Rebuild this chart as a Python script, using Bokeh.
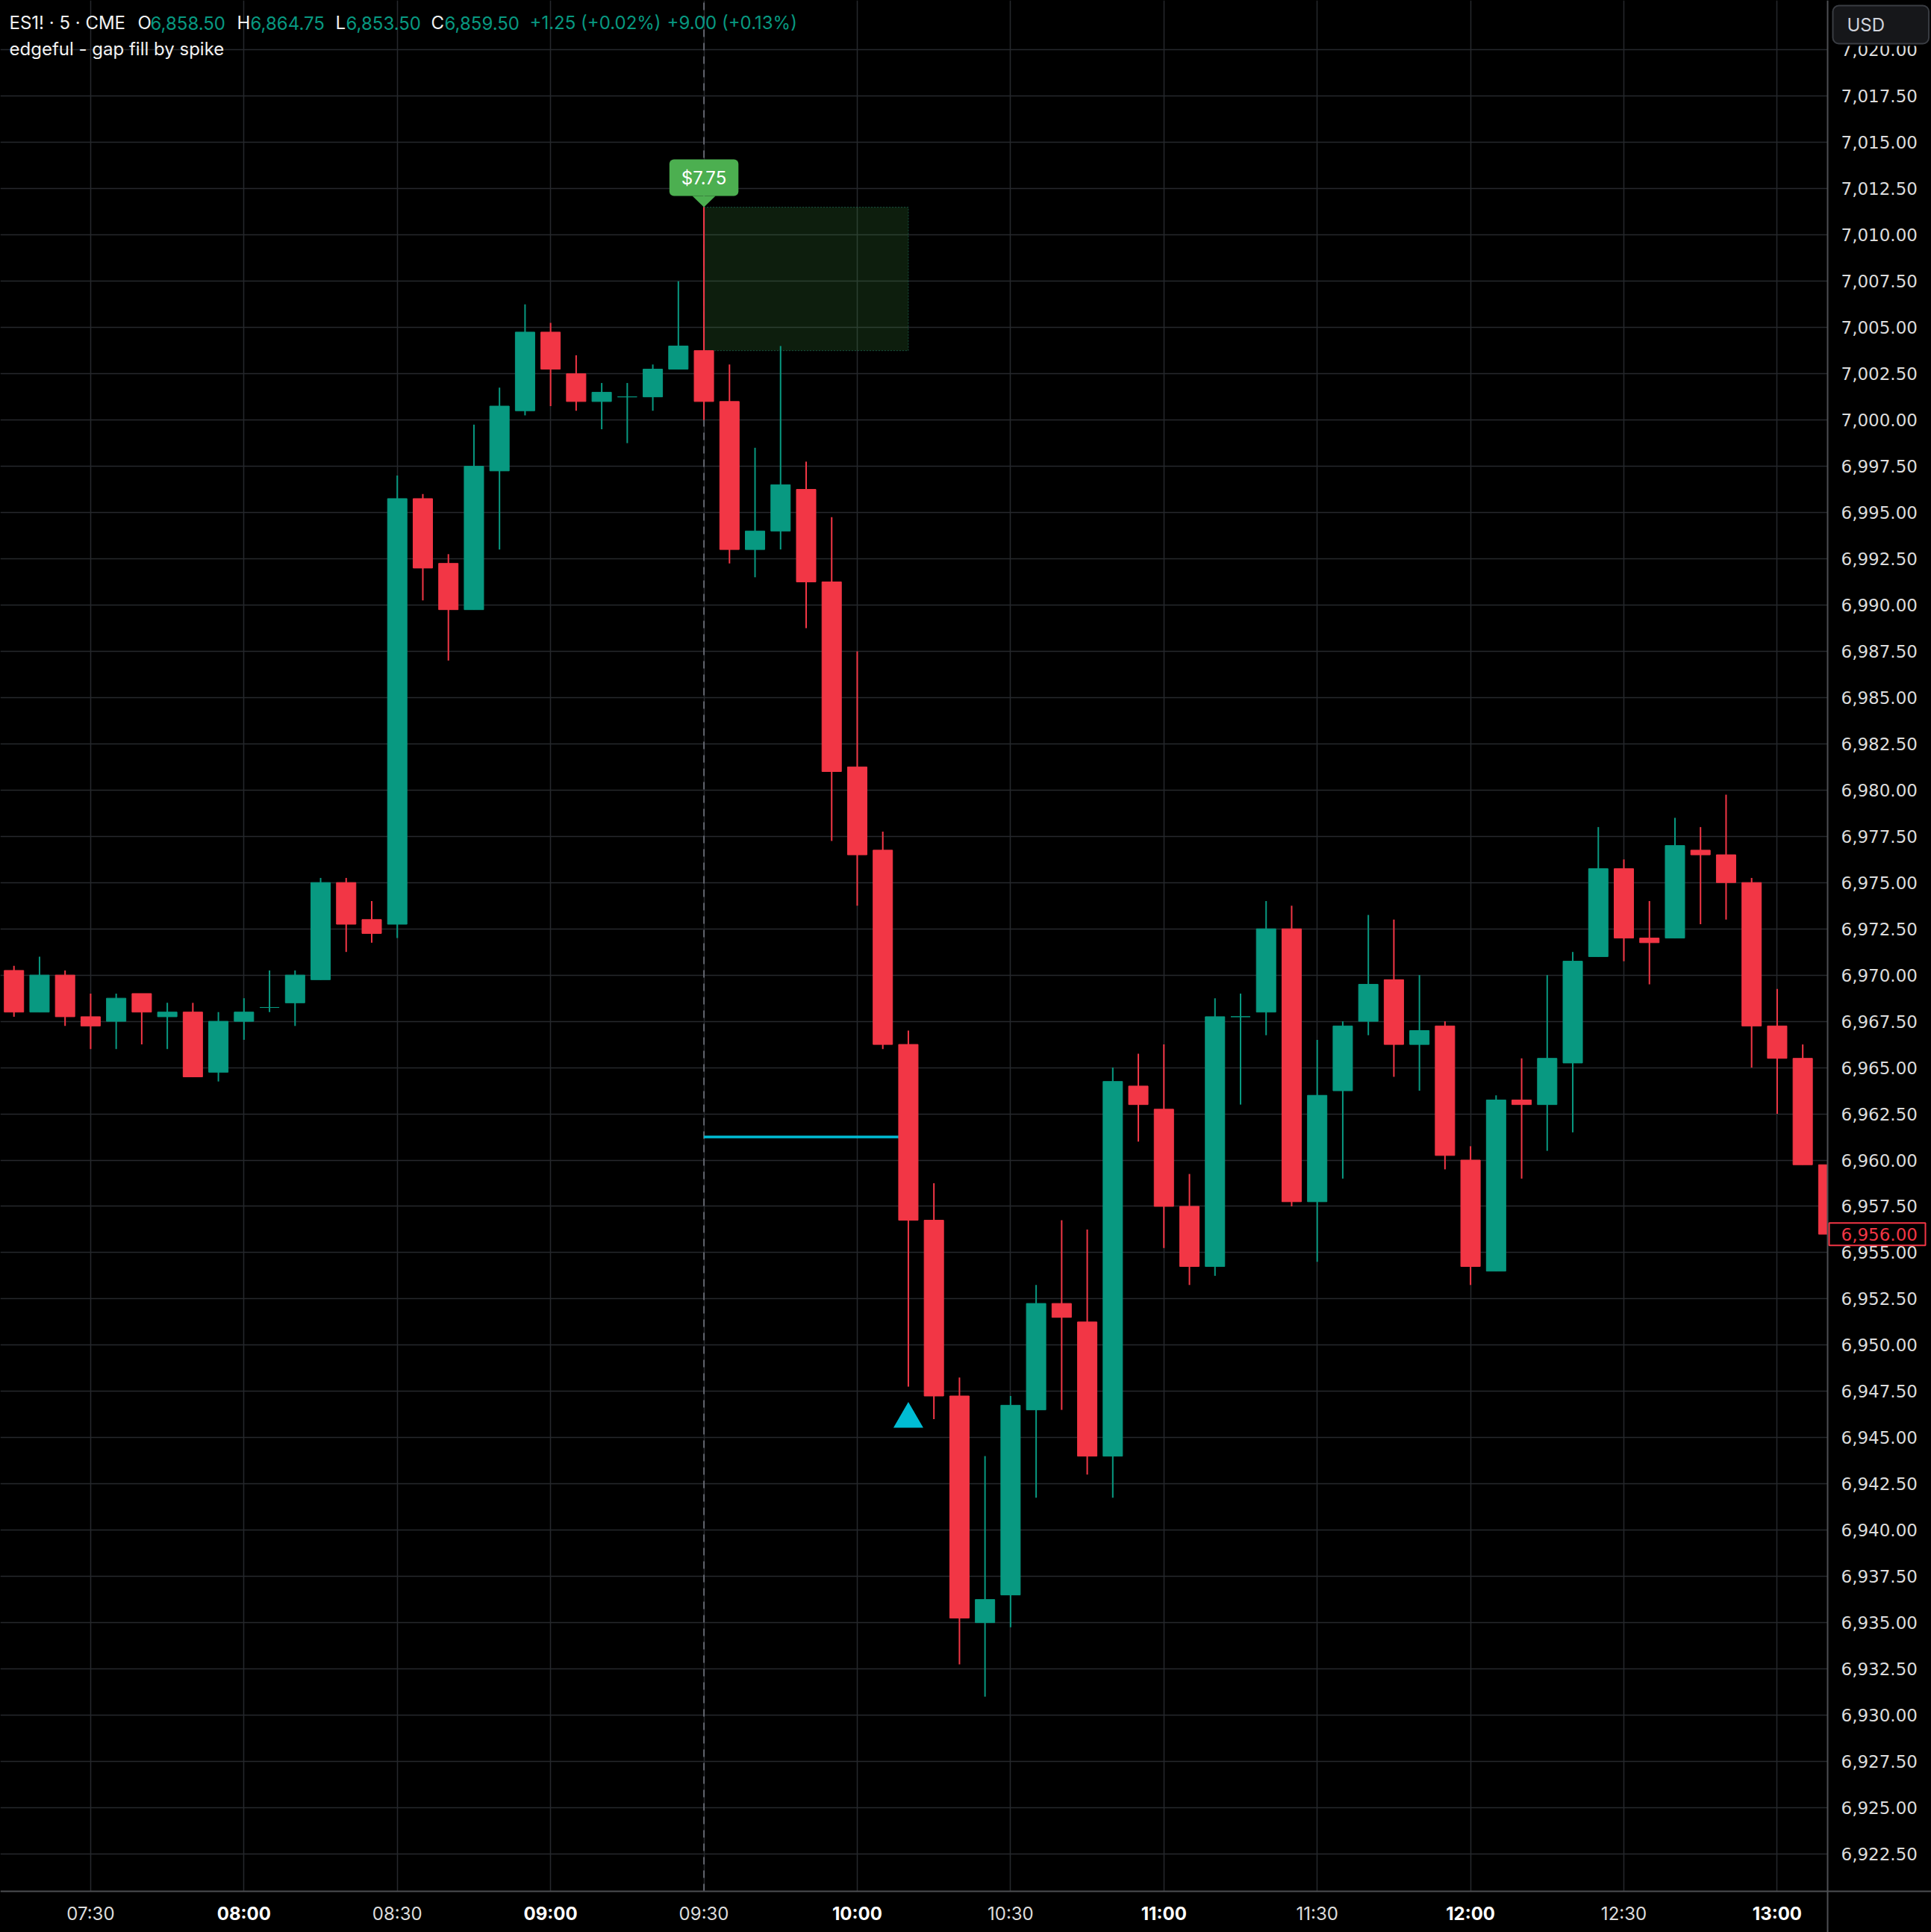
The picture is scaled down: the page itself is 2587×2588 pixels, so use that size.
import numpy as np
from bokeh.plotting import figure
from bokeh.models import ColumnDataSource, FixedTicker, Range1d, Label
from bokeh.embed import file_html
from bokeh.resources import INLINE
from bokeh.core.properties import value

# ---------------- data ----------------
bar_times = ["07:15", "07:20", "07:25", "07:30", "07:35", "07:40", "07:45", "07:50", "07:55",
             "08:00", "08:05", "08:10", "08:15", "08:20", "08:25", "08:30", "08:35", "08:40",
             "08:45", "08:50", "08:55", "09:00", "09:05", "09:10", "09:15", "09:20", "09:25",
             "09:30", "09:35", "09:40", "09:45", "09:50", "09:55", "10:00", "10:05", "10:10",
             "10:15", "10:20", "10:25", "10:30", "10:35", "10:40", "10:45", "10:50", "10:55",
             "11:00", "11:05", "11:10", "11:15", "11:20", "11:25", "11:30", "11:35", "11:40",
             "11:45", "11:50", "11:55", "12:00", "12:05", "12:10", "12:15", "12:20", "12:25",
             "12:30", "12:35", "12:40", "12:45", "12:50", "12:55", "13:00", "13:05", "13:10"]
bar_open = [6970.25, 6968.0, 6970.0, 6967.75, 6967.5, 6969.0, 6967.75, 6968.0, 6964.75,
            6967.5, 6968.25, 6968.5, 6969.75, 6975.0, 6973.0, 6972.75, 6995.75, 6992.25,
            6989.75, 6997.25, 7000.5, 7004.75, 7002.5, 7001.0, 7001.25, 7001.25, 7002.75,
            7003.75, 7001.0, 6993.0, 6994.0, 6996.25, 6991.25, 6981.25, 6976.75, 6966.25,
            6956.75, 6947.25, 6935.0, 6936.5, 6946.5, 6952.25, 6951.25, 6944.0, 6964.0,
            6962.75, 6957.5, 6954.25, 6967.75, 6968.0, 6972.5, 6957.75, 6963.75, 6967.5,
            6969.75, 6966.25, 6967.25, 6960.0, 6954.0, 6963.25, 6963.0, 6965.25, 6971.0,
            6975.75, 6972.0, 6972.0, 6976.75, 6976.5, 6975.0, 6967.25, 6965.5, 6959.75]
bar_high = [6970.5, 6971.0, 6970.25, 6969.0, 6969.0, 6969.0, 6968.5, 6968.5, 6968.0,
            6968.75, 6970.25, 6970.25, 6975.25, 6975.25, 6974.0, 6997.0, 6996.0, 6992.75,
            6999.75, 7001.75, 7006.25, 7005.25, 7003.5, 7002.0, 7002.0, 7003.0, 7007.5,
            7011.5, 7003.0, 6998.5, 7004.0, 6997.75, 6994.75, 6987.5, 6977.75, 6967.0,
            6958.75, 6948.25, 6944.0, 6947.25, 6953.25, 6956.75, 6956.25, 6965.0, 6965.75,
            6966.25, 6959.25, 6968.75, 6969.0, 6974.0, 6973.75, 6966.5, 6967.5, 6973.25,
            6973.0, 6970.0, 6967.5, 6960.75, 6963.5, 6965.5, 6970.0, 6971.25, 6978.0,
            6976.25, 6974.0, 6978.5, 6978.0, 6979.75, 6975.25, 6969.25, 6966.25, 6959.75]
bar_low = [6967.75, 6968.0, 6967.25, 6966.0, 6966.0, 6966.25, 6966.0, 6964.5, 6964.25,
           6966.5, 6968.0, 6967.25, 6969.75, 6971.25, 6971.75, 6972.0, 6990.25, 6987.0,
           6989.75, 6993.0, 7000.25, 7000.75, 7000.5, 6999.5, 6998.75, 7000.5, 7002.75,
           7000.0, 6992.25, 6991.5, 6993.0, 6988.75, 6977.25, 6973.75, 6966.0, 6947.75,
           6946.0, 6932.75, 6931.0, 6934.75, 6941.75, 6946.5, 6943.0, 6941.75, 6961.0,
           6955.25, 6953.25, 6953.75, 6963.0, 6966.75, 6957.5, 6954.5, 6959.0, 6966.75,
           6964.5, 6963.75, 6959.5, 6953.25, 6954.0, 6959.0, 6960.5, 6961.5, 6971.0,
           6970.75, 6969.5, 6972.0, 6972.75, 6973.0, 6965.0, 6962.5, 6959.75, 6955.25]
bar_close = [6968.0, 6970.0, 6967.75, 6967.25, 6968.75, 6968.0, 6968.0, 6964.5, 6967.5,
             6968.0, 6968.25, 6970.0, 6975.0, 6972.75, 6972.25, 6995.75, 6992.0, 6989.75,
             6997.5, 7000.75, 7004.75, 7002.75, 7001.0, 7001.5, 7001.25, 7002.75, 7004.0,
             7001.0, 6993.0, 6994.0, 6996.5, 6991.25, 6981.0, 6976.5, 6966.25, 6956.75,
             6947.25, 6935.25, 6936.25, 6946.75, 6952.25, 6951.5, 6944.0, 6964.25, 6963.0,
             6957.5, 6954.25, 6967.75, 6967.75, 6972.5, 6957.75, 6963.5, 6967.25, 6969.5,
             6966.25, 6967.0, 6960.25, 6954.25, 6963.25, 6963.0, 6965.5, 6970.75, 6975.75,
             6972.0, 6971.75, 6977.0, 6976.5, 6975.0, 6967.25, 6965.5, 6959.75, 6956.0]

x_tick_labels = ["07:30", "08:00", "08:30", "09:00", "09:30", "10:00", "10:30",
                 "11:00", "11:30", "12:00", "12:30", "13:00"]
y_tick_first, y_tick_last, y_tick_step = 6922.5, 7020.0, 2.5

header_symbol = "ES1! · 5 · CME"
header_fields = ["O", "H", "L", "C"]
header_values = ["6,858.50", "6,864.75", "6,853.50", "6,859.50"]
header_changes = ["+1.25 (+0.02%)", "+9.00 (+0.13%)"]
indicator_name = "edgeful - gap fill by spike"

spike_time = "09:30"
zone_end_time = "10:10"
zone_top = 7011.5
zone_bottom = 7003.75
spike_label = "$7.75"
fill_level = 6961.25
signal_time = "10:10"
signal_price = 6946.0
currency = "USD"

# ---------------- styling ----------------
UP, DOWN = "#089981", "#f23645"
GRID = "#26282c"
AXIS_LINE = "#4d4f53"
TXT = "#dcdcdc"
FONT = "Inter"
NUMFONT = "DejaVu Sans"

W, H = 2587, 2588            # whole canvas
FW, FH = 2448, 2533          # price pane (right axis and time axis outside it)
x_start, x_end = 432.34, 789.87
y_start, y_end = 6920.48, 7022.68
ppm = FW / (x_end - x_start)  # px per minute
ppp = FH / (y_end - y_start)  # px per point
x_full = x_start + W / ppm
y_full = y_start - (H - FH) / ppp


def to_min(t):
    h, m = t.split(":")
    return int(h) * 60 + int(m)


xs = [to_min(t) for t in bar_times]
colors = [UP if c >= o else DOWN for o, c in zip(bar_open, bar_close)]
src = ColumnDataSource(dict(
    x=xs, o=bar_open, h=bar_high, l=bar_low, c=bar_close,
    top=[max(o, c) for o, c in zip(bar_open, bar_close)],
    bottom=[min(o, c) for o, c in zip(bar_open, bar_close)],
    color=colors))

p = figure(frame_width=W, frame_height=H,
           x_range=Range1d(x_start, x_full), y_range=Range1d(y_full, y_end),
           x_axis_location=None, y_axis_location=None,
           toolbar_location=None, output_backend="svg",
           background_fill_color="#000000", border_fill_color="#000000",
           outline_line_color=None, min_border=0)

x_ticks = [to_min(t) for t in x_tick_labels]
y_ticks = list(np.arange(y_tick_first, y_tick_last + 0.001, y_tick_step))

# reuse the figure's own grids
p.xgrid.ticker = FixedTicker(ticks=x_ticks)
p.ygrid.ticker = FixedTicker(ticks=y_ticks)
p.grid.grid_line_color = GRID
p.grid.grid_line_width = 1.5

sx = to_min(spike_time)
ex = to_min(zone_end_time)

# dashed vertical line at spike bar
p.segment(x0=[sx], y0=[y_start], x1=[sx], y1=[y_end], line_color="#787b86",
          line_width=1.5, line_dash="10 8")

# gap fill zone
p.quad(left=[sx], right=[ex], top=[zone_top], bottom=[zone_bottom],
       fill_color="#4caf50", fill_alpha=0.17, line_color="#1f6e58",
       line_alpha=0.7, line_width=1, line_dash="2 2")

# fill level line
p.segment(x0=[sx], y0=[fill_level], x1=[ex], y1=[fill_level],
          line_color="#00bcd4", line_width=3.5)

# candles
p.segment(x0="x", y0="l", x1="x", y1="h", line_color="color", line_width=2, source=src)
p.vbar(x="x", width=3.8, top="top", bottom="bottom", fill_color="color",
       line_color="color", line_width=1, source=src)

# signal triangle
p.scatter(x=[to_min(signal_time)], y=[signal_price], marker="triangle", size=40,
          fill_color="#00bcd4", line_color=None)

# spike label pointer
spike_high = bar_high[bar_times.index(spike_time)]
pw, ph = 15.5 / ppm, 15 / ppp
p.patch(x=[sx - pw, sx + pw, sx], y=[spike_high + ph, spike_high + ph, spike_high],
        fill_color="#4caf50", line_color=None)

# scale areas (right price scale, bottom time scale)
p.quad(left=[x_end], right=[x_full], top=[y_end], bottom=[y_full],
       fill_color="#000000", line_color=None)
p.quad(left=[x_start], right=[x_full], top=[y_start], bottom=[y_full],
       fill_color="#000000", line_color=None)
p.segment(x0=[x_end, x_start], y0=[y_full, y_start], x1=[x_end, x_full], y1=[y_end, y_start],
          line_color=AXIS_LINE, line_width=2)

# price scale labels
lab_x = x_end + 18 / ppm
p.text(x=[lab_x] * len(y_ticks), y=y_ticks, text=[f"{v:,.2f}" for v in y_ticks],
       text_font=value(NUMFONT), text_font_size=value("23px"), text_color=TXT,
       text_align="left", text_baseline="middle")

# top strip of the price scale is reserved for the currency button
p.quad(left=[x_end + 2 / ppm], right=[x_full], top=[y_end], bottom=[y_end - 61 / ppp],
       fill_color="#000000", line_color=None)

# last price marker on the scale
last = bar_close[-1]
p.rect(x=[x_end + 66.5 / ppm], y=[last], width=129, height=30,
       width_units="screen", height_units="screen",
       fill_color="#000000", line_color=DOWN, line_width=2)
p.text(x=[lab_x], y=[last], text=[f"{last:,.2f}"],
       text_font=value(NUMFONT), text_font_size=value("23px"), text_color=DOWN,
       text_align="left", text_baseline="middle")

# time scale labels
x_lab_y = y_start - 30 / ppp
norm = [t for t in x_tick_labels if not t.endswith(":00")]
bold = [t for t in x_tick_labels if t.endswith(":00")]
p.text(x=[to_min(t) for t in norm], y=[x_lab_y] * len(norm), text=norm,
       text_font=value(FONT), text_font_size=value("24px"), text_color=TXT,
       text_align="center", text_baseline="middle")
p.text(x=[to_min(t) for t in bold], y=[x_lab_y] * len(bold), text=bold,
       text_font=value(FONT), text_font_size=value("24px"), text_color="#ffffff",
       text_font_style="bold", text_align="center", text_baseline="middle")

# spike label box
p.add_layout(Label(x=sx, y=spike_high, y_offset=15 + 24.5, text=spike_label,
                   text_align="center", text_baseline="middle", text_font=FONT,
                   text_font_size="24px", text_color="#ffffff",
                   background_fill_color="#4caf50", border_line_color=None,
                   padding=dict(left=16, right=16, top=10, bottom=10), border_radius=6))

# header
hy1, hy2 = H - 30, H - 65
hx_symbol = 12
hx_fields = [184, 317, 449, 577]
hx_values = [201, 335, 463, 595]
hx_changes = [709, 893]


def hlabel(text, x, y, color):
    p.add_layout(Label(x=x, y=y, x_units="screen", y_units="screen", text=text,
                       text_align="left", text_baseline="middle", text_font=FONT,
                       text_font_size="24px", text_color=color))


hlabel(header_symbol, hx_symbol, hy1, "#f2f2f2")
for f, v, fx, vx in zip(header_fields, header_values, hx_fields, hx_values):
    hlabel(f, fx, hy1, "#f2f2f2")
    hlabel(v, vx, hy1, UP)
for ch, cx in zip(header_changes, hx_changes):
    hlabel(ch, cx, hy1, UP)
hlabel(indicator_name, hx_symbol, hy2, "#f2f2f2")

# currency box
p.add_layout(Label(x=FW + 7, y=H - 32.5, x_units="screen", y_units="screen",
                   text=currency, text_align="left", text_baseline="middle",
                   text_font=FONT, text_font_size="24px", text_color="#d1d4dc",
                   background_fill_color="#16171a", border_line_color="#3a3d43",
                   border_line_width=2, padding=dict(left=19, right=59, top=11, bottom=11),
                   border_radius=8))

html = file_html(p, INLINE, title="ES1! 5 CME")
html = html.replace("<head>", "<head><style>html,body{margin:0;padding:0;background:#000;overflow:hidden;}</style>", 1)
open("out.html", "w").write(html)
